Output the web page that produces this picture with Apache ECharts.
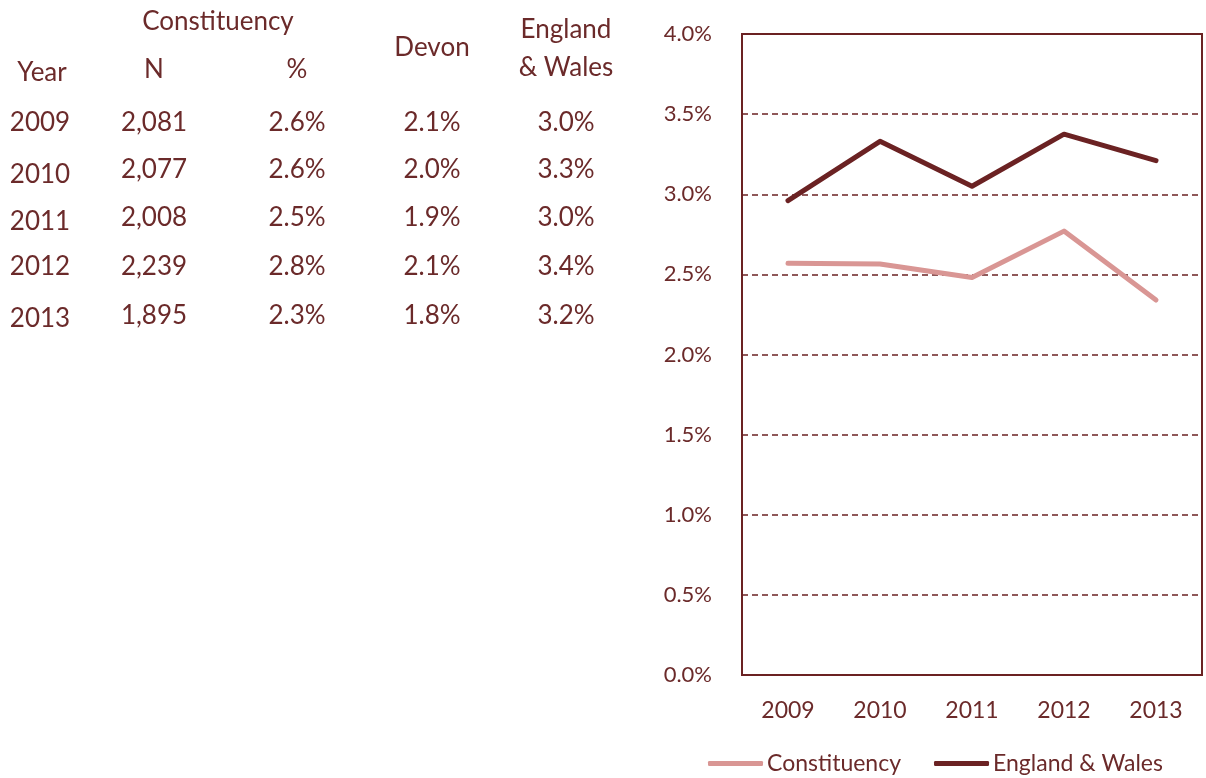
<!DOCTYPE html>
<html>
<head>
<meta charset="utf-8">
<script src="https://cdn.jsdelivr.net/npm/echarts@6/dist/echarts.min.js"></script>
<style>
  html, body { margin: 0; padding: 0; background: #fff; }
  #chart { width: 1206px; height: 778px; }
</style>
</head>
<body>
<div id="chart"></div>
<script>
// chart data
const years = ['2009', '2010', '2011', '2012', '2013'];
const constituencyPct = [2.57, 2.565, 2.48, 2.77, 2.34];
const englandWalesPct = [2.96, 3.33, 3.05, 3.375, 3.21];

// table data
const tableN = ['2,081', '2,077', '2,008', '2,239', '1,895'];
const tablePct = ['2.6%', '2.6%', '2.5%', '2.8%', '2.3%'];
const tableDevon = ['2.1%', '2.0%', '1.9%', '2.1%', '1.8%'];
const tableEW = ['3.0%', '3.3%', '3.0%', '3.4%', '3.2%'];

const TEXT = '#6b2a2a';
const DARK = '#6b2223';
const LIGHT = '#d99694';
const FONT = 'Lato, "Open Sans", sans-serif';

const chart = echarts.init(document.getElementById('chart'));

const txt = (x, y, s) => ({
  type: 'text',
  x: x,
  y: y,
  style: {
    text: s,
    fill: TEXT,
    font: '26px ' + FONT,
    align: 'center',
    verticalAlign: 'middle',
  },
});

// table layout
const colX = [40, 154, 297, 432, 566];
const yearRowY = [123, 175, 222, 267, 319];
const valRowY = [123, 170, 218, 267, 316];

const graphics = [
  txt(218, 22, 'Constituency'),
  txt(42, 73, 'Year'),
  txt(154, 70, 'N'),
  txt(297, 70, '%'),
  txt(432, 48, 'Devon'),
  txt(566, 30, 'England'),
  txt(566, 68, '& Wales'),
];
years.forEach((yr, i) => {
  graphics.push(txt(colX[0], yearRowY[i], yr));
  graphics.push(txt(colX[1], valRowY[i], tableN[i]));
  graphics.push(txt(colX[2], valRowY[i], tablePct[i]));
  graphics.push(txt(colX[3], valRowY[i], tableDevon[i]));
  graphics.push(txt(colX[4], valRowY[i], tableEW[i]));
});

chart.setOption({
  animation: false,
  textStyle: { fontFamily: FONT, color: TEXT },
  graphic: graphics,
  grid: {
    left: 742,
    top: 34,
    right: 4,
    bottom: 103,
    show: true,
    borderColor: DARK,
    borderWidth: 2,
  },
  legend: {
    left: 708,
    top: 752,
    padding: 0,
    icon: 'roundRect',
    itemWidth: 55,
    itemHeight: 5,
    itemGap: 33,
    textStyle: { fontSize: 23, color: TEXT, fontFamily: FONT, padding: [0, 0, 0, -1] },
    data: ['Constituency', 'England & Wales'],
  },
  xAxis: {
    type: 'category',
    data: years,
    boundaryGap: true,
    axisLine: { show: false },
    axisTick: { show: false },
    axisLabel: { fontSize: 23, color: TEXT, margin: 24 },
  },
  yAxis: {
    type: 'value',
    min: 0,
    max: 4,
    interval: 0.5,
    axisLine: { show: false },
    axisTick: { show: false },
    axisLabel: {
      fontSize: 22,
      color: TEXT,
      margin: 30,
      formatter: (v) => v.toFixed(1) + '%',
    },
    splitLine: {
      lineStyle: { color: DARK, type: [6, 4], width: 1.5 },
    },
  },
  series: [
    {
      name: 'Constituency',
      type: 'line',
      data: constituencyPct,
      symbol: 'none',
      color: LIGHT,
      lineStyle: { width: 5, color: LIGHT, cap: 'round', join: 'round' },
    },
    {
      name: 'England & Wales',
      type: 'line',
      data: englandWalesPct,
      symbol: 'none',
      color: DARK,
      lineStyle: { width: 5, color: DARK, cap: 'round', join: 'round' },
    },
  ],
});
</script>
</body>
</html>
